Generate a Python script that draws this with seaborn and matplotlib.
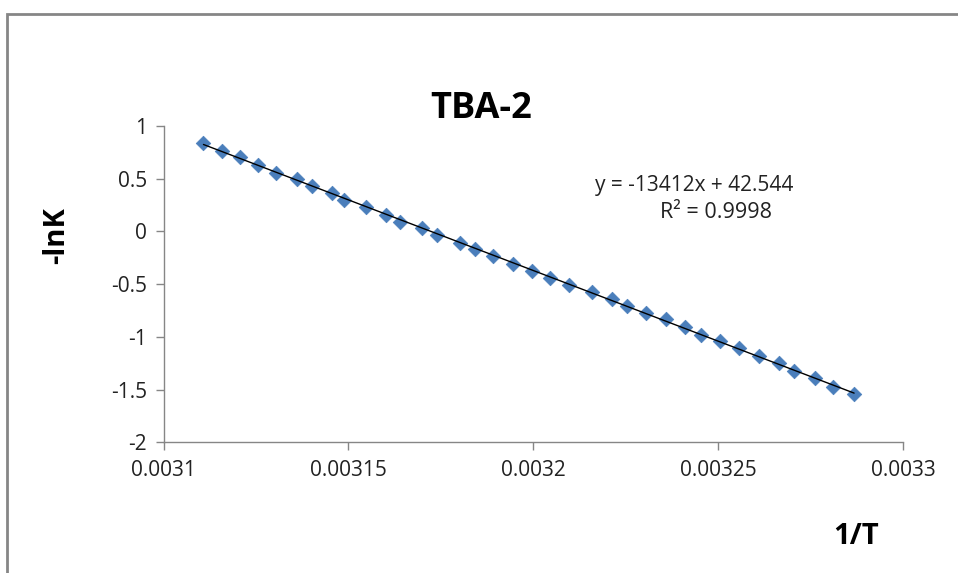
import numpy as np
import pandas as pd
import matplotlib
matplotlib.use("Agg")
import matplotlib.pyplot as plt
from matplotlib.patches import Rectangle
import seaborn as sns

# ---- data ----
inv_T = [0.0031108, 0.0031157, 0.0031207, 0.0031255, 0.0031304, 0.0031362,
         0.0031401, 0.0031455, 0.0031489, 0.0031547, 0.0031602, 0.0031639,
         0.0031698, 0.0031740, 0.0031802, 0.0031842, 0.0031892, 0.0031946,
         0.0031995, 0.0032045, 0.0032097, 0.0032158, 0.0032212, 0.0032254,
         0.0032304, 0.0032358, 0.0032410, 0.0032453, 0.0032505, 0.0032556,
         0.0032611, 0.0032663, 0.0032705, 0.0032761, 0.0032811, 0.0032867]
neg_lnK = [0.842, 0.766, 0.703, 0.630, 0.557, 0.494,
           0.434, 0.367, 0.298, 0.227, 0.158, 0.089,
           0.032, -0.037, -0.107, -0.164, -0.236, -0.306,
           -0.371, -0.442, -0.506, -0.575, -0.639, -0.711,
           -0.774, -0.834, -0.907, -0.978, -1.037, -1.109,
           -1.182, -1.246, -1.322, -1.394, -1.479, -1.543]
x_ticks = [0.0031, 0.00315, 0.0032, 0.00325, 0.0033]
x_tick_labels = ["0.0031", "0.00315", "0.0032", "0.00325", "0.0033"]
y_ticks = [1, 0.5, 0, -0.5, -1, -1.5, -2]
y_tick_labels = ["1", "0.5", "0", "-0.5", "-1", "-1.5", "-2"]
title = "TBA-2"
x_label = "1/T"
y_label = "-lnK"
eq_text = "y = -13412x + 42.544"
r2_text = "R² = 0.9998"

df = pd.DataFrame({"x": inv_T, "y": neg_lnK})

sns.set_theme(style="white")
plt.rcParams["font.family"] = ["Open Sans", "DejaVu Sans"]
plt.rcParams["axes.unicode_minus"] = False

W, H = 958, 573
fig = plt.figure(figsize=(W / 100, H / 100), dpi=100)
fig.patch.set_facecolor("white")
ax = fig.add_axes([163.5 / W, 1 - 442.3 / H, (903.3 - 163.5) / W, (442.3 - 126) / H])
ax.set_facecolor("white")

grey = "#868686"
sns.regplot(data=df, x="x", y="y", scatter=False, ci=None, truncate=True,
            line_kws=dict(color="black", lw=1.0), ax=ax)
sns.scatterplot(data=df, x="x", y="y", marker="D", s=55, color="#4a7ebb",
                edgecolor="#4a7ebb", linewidth=0.5, ax=ax, zorder=3)
ax.lines[0].set_zorder(4)

ax.set_xlim(0.0031, 0.0033)
ax.set_ylim(-2, 1)
ax.set_xticks(x_ticks)
ax.set_xticklabels(x_tick_labels)
ax.set_yticks(y_ticks)
ax.set_yticklabels(y_tick_labels)
ax.set_xlabel("")
ax.set_ylabel("")

for s in ["top", "right"]:
    ax.spines[s].set_visible(False)
for s in ["left", "bottom"]:
    ax.spines[s].set_color(grey)
    ax.spines[s].set_linewidth(1.0)
ax.tick_params(axis="both", direction="out", length=6, width=1.0, color=grey,
               labelsize=15, labelcolor="#222222")
ax.tick_params(axis="y", pad=6)
ax.tick_params(axis="x", pad=7)
ax.tick_params(left=True, bottom=True)

fig.text(481 / W, 1 - 118 / H, title, ha="center", va="baseline",
         fontsize=26, fontweight="bold", color="black")
fig.text(57 / W, 1 - 236 / H, y_label, ha="center", va="center", rotation=90,
         fontsize=21, fontweight="bold", color="black")
fig.text(856 / W, 1 - 536 / H, x_label, ha="center", va="center",
         fontsize=21, fontweight="bold", color="black")
fig.text(694 / W, 1 - 185 / H, eq_text, ha="center", va="center",
         fontsize=15, color="#222222")
fig.text(716 / W, 1 - 213 / H, r2_text, ha="center", va="center",
         fontsize=15.5, color="#222222")

fig.add_artist(Rectangle((7 / W, -0.1), 2, 1 - 14 / H + 0.1,
                         transform=fig.transFigure, fill=False,
                         edgecolor=grey, lw=2))

fig.savefig("out.png", dpi=100, facecolor="white")
